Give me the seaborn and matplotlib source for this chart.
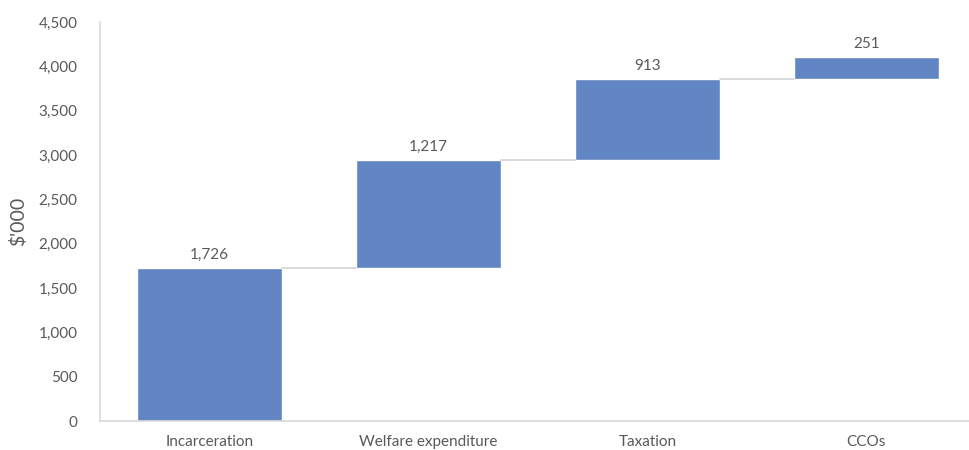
import matplotlib
matplotlib.use("Agg")
import matplotlib.pyplot as plt
import matplotlib.ticker as mticker
import numpy as np
import pandas as pd
import seaborn as sns

categories = ["Incarceration", "Welfare expenditure", "Taxation", "CCOs"]
values = [1726, 1217, 913, 251]

ends = np.cumsum(values)
starts = ends - np.array(values)
df = pd.DataFrame({"category": categories, "value": values, "start": starts})

sns.set_theme(style="white")
plt.rcParams["font.family"] = ["Lato", "DejaVu Sans"]

text_color = "#595959"
bar_color = "#6285C3"
line_color = "#D9D9D9"
bar_width = 0.665

fig = plt.figure(figsize=(9.7, 4.5), dpi=100)
ax = fig.add_axes([0.103, 0.064, 0.903, 0.887])

sns.barplot(data=df, x="category", y="value", bottom=df["start"],
            color=bar_color, width=bar_width, saturation=1, ax=ax)

# connectors between consecutive bars
for i in range(len(values) - 1):
    ax.plot([i + bar_width / 2, i + 1 - bar_width / 2], [ends[i], ends[i]],
            color=line_color, lw=1.4, zorder=1)

# value labels above each bar
for i, v in enumerate(values):
    ax.text(i, ends[i] + 70, f"{v:,}", ha="center", va="bottom",
            fontsize=11, color=text_color)

ax.set_xlim(-0.5, 3.5)
ax.set_ylim(0, 4500)
ax.yaxis.set_major_locator(mticker.MultipleLocator(500))
ax.yaxis.set_major_formatter(mticker.StrMethodFormatter("{x:,.0f}"))
ax.set_xlabel("")
ax.set_ylabel("$'000", fontsize=14, color=text_color, labelpad=8)
ax.tick_params(axis="both", length=0, labelsize=11, labelcolor=text_color)
ax.tick_params(axis="y", pad=16)
ax.tick_params(axis="x", pad=10)

for side in ["top", "right"]:
    ax.spines[side].set_visible(False)
for side in ["left", "bottom"]:
    ax.spines[side].set_color(line_color)
    ax.spines[side].set_linewidth(1.2)

fig.savefig("out.png", dpi=100)
